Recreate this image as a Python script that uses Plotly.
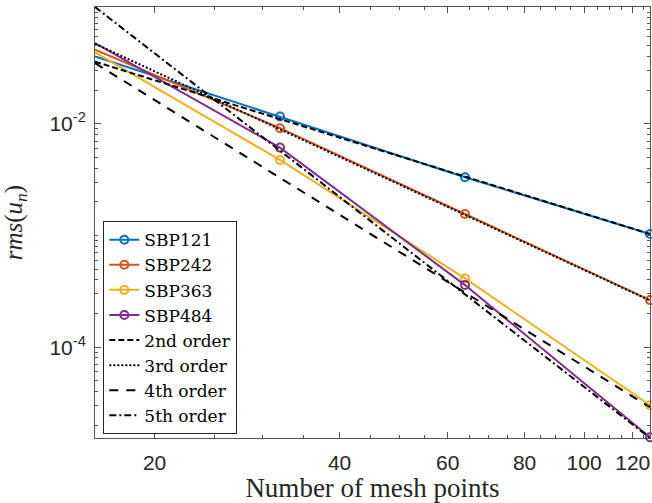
import plotly.graph_objects as go

# ---- data ----
mesh_points = [16, 32, 64, 128]
sbp121 = [0.04015, 0.011628, 0.003327, 0.0010316]
sbp242 = [0.04610, 0.009150, 0.001559, 2.639e-4]
sbp363 = [0.04360, 0.004753, 4.130e-4, 3.018e-5]
sbp484 = [0.05294, 0.006129, 3.598e-4, 1.559e-5]

ref_x = [16, 128]
ref_2nd = [0.03606, 0.0010316]
ref_3rd = [0.05218, 2.62e-4]
ref_4th = [0.03502, 2.896e-5]
ref_5th = [0.1113, 1.537e-5]

x_ticks = [20, 40, 60, 80, 100, 120]
x_minor = [25, 30, 35, 45, 50, 55, 65, 70, 75, 85, 90, 95, 105, 110, 115, 125]
y_ticks = [1e-4, 1e-2]
y_ticktext = ["10<sup>-4</sup>", "10<sup>-2</sup>"]
y_minor = [k * 10.0 ** e for e in range(-6, 0) for k in range(1, 10)]

series = [
    ("SBP121", sbp121, "#0072BD"),
    ("SBP242", sbp242, "#D95319"),
    ("SBP363", sbp363, "#EDB120"),
    ("SBP484", sbp484, "#7E2F8E"),
]
refs = [
    ("2nd order", ref_2nd, "6px,3px"),
    ("3rd order", ref_3rd, "2px,2px"),
    ("4th order", ref_4th, "9px,8px"),
    ("5th order", ref_5th, "7px,3px,2px,3px"),
]

fig = go.Figure()
for name, vals, col in series:
    fig.add_trace(go.Scatter(
        x=mesh_points, y=vals, name=name, mode="lines+markers",
        line=dict(color=col, width=2),
        marker=dict(symbol="circle-open", size=8, color=col, line=dict(width=2)),
        cliponaxis=False,
    ))
for name, vals, dash in refs:
    fig.add_trace(go.Scatter(
        x=ref_x, y=vals, name=name, mode="lines",
        line=dict(color="black", width=2, dash=dash),
    ))

axis_col = "#555555"
fig.update_layout(
    width=652, height=503,
    margin=dict(l=95, r=2, t=7, b=65),
    paper_bgcolor="white", plot_bgcolor="white",
    showlegend=True,
    legend=dict(
        x=0.015, y=0.009, xanchor="left", yanchor="bottom",
        bordercolor="#262626", borderwidth=1, bgcolor="white",
        font=dict(family="DejaVu Serif", size=17, color="black"),
        tracegroupgap=0, itemwidth=30,
    ),
    font=dict(family="Liberation Sans", color="#262626"),
)
fig.update_xaxes(
    type="log", range=[1.20412, 2.10721], automargin=False,
    tickmode="array", tickvals=x_ticks, ticktext=[str(v) for v in x_ticks],
    ticks="inside", ticklen=6, tickcolor=axis_col, tickwidth=1,
    ticklabelstandoff=6,
    minor=dict(tickmode="array", tickvals=x_minor, ticks="inside", ticklen=3,
               tickcolor=axis_col, showgrid=False),
    showline=True, linecolor=axis_col, linewidth=1, mirror="ticks",
    showgrid=False, zeroline=False,
    tickfont=dict(family="Liberation Sans", size=21, color="#262626"),
    title=dict(text="Number of mesh points", standoff=6,
               font=dict(family="Liberation Serif", size=27, color="#262626")),
)
fig.update_yaxes(
    type="log", range=[-4.8135, -0.9534], automargin=False,
    tickmode="array", tickvals=y_ticks, ticktext=y_ticktext,
    ticks="inside", ticklen=6, tickcolor=axis_col, tickwidth=1,
    ticklabelstandoff=4,
    minor=dict(tickmode="array", tickvals=y_minor, ticks="inside", ticklen=3,
               tickcolor=axis_col, showgrid=False),
    showline=True, linecolor=axis_col, linewidth=1, mirror="ticks",
    showgrid=False, zeroline=False,
    tickfont=dict(family="Liberation Sans", size=21, color="#262626"),
    title=dict(text="<i>rms</i>(<i>u</i><sub><i>n</i></sub>)", standoff=20,
               font=dict(family="Liberation Serif", size=25, color="#262626")),
)

fig.write_html(
    "out.html",
    config={"displayModeBar": False},
    post_script="document.body.style.margin='0';document.body.style.padding='0';",
)
